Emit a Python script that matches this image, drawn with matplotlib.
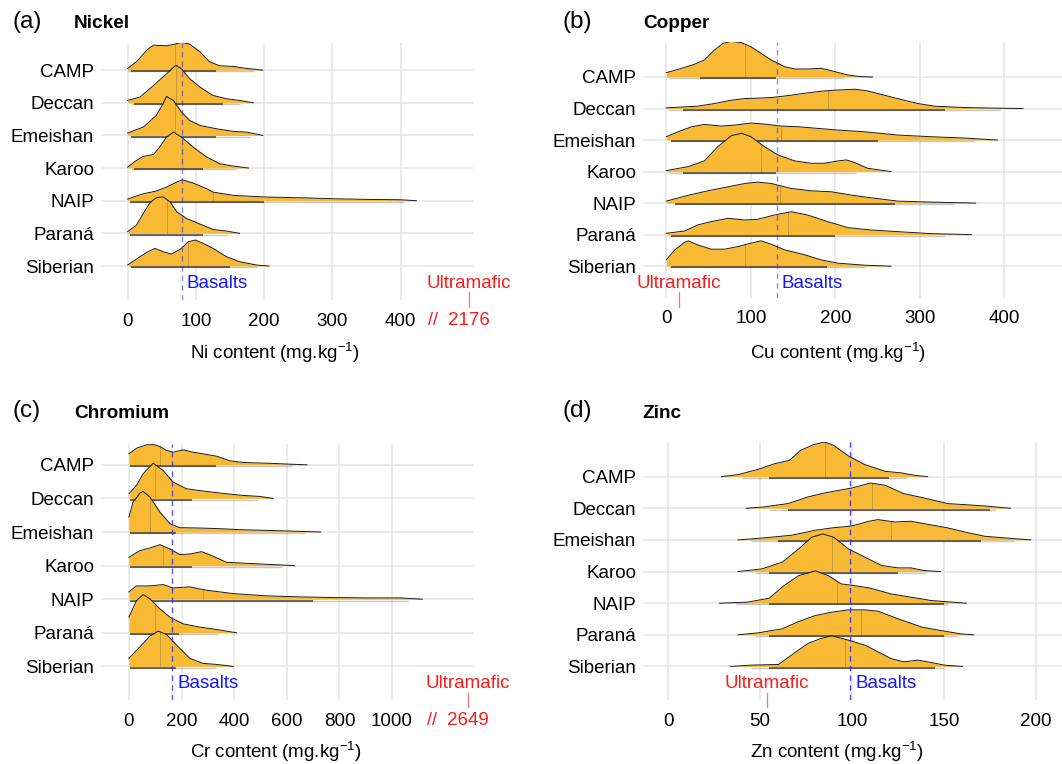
import numpy as np
import matplotlib
matplotlib.use('Agg')
import matplotlib.pyplot as plt

plt.rcParams['font.family'] = ['Liberation Sans', 'DejaVu Sans']
plt.rcParams['mathtext.default'] = 'regular'

REGIONS = ['CAMP', 'Deccan', 'Emeishan', 'Karoo', 'NAIP', 'Paraná', 'Siberian']

# ---------------- Nickel ----------------
NI_X = {
    'CAMP': [0, 13, 28, 38, 57, 67, 79, 91, 106, 120, 135, 155, 174, 198],
    'Deccan': [0, 18, 38, 57, 69, 71, 79, 91, 106, 125, 145, 164, 184],
    'Emeishan': [0, 23, 42, 52, 57, 67, 79, 91, 106, 130, 155, 174, 198],
    'Karoo': [0, 13, 23, 38, 47, 57, 67, 79, 96, 116, 135, 155, 177],
    'NAIP': [0, 23, 42, 57, 72, 80, 96, 116, 125, 155, 203, 252, 301, 350, 399, 423],
    'Paraná': [0, 13, 23, 33, 42, 52, 62, 72, 86, 106, 125, 145, 164],
    'Siberian': [0, 18, 30, 40, 52, 64, 77, 89, 99, 111, 125, 145, 164, 189, 207],
}
NI_H = {
    'CAMP': [5, 25, 60, 75, 73, 77, 83, 78, 55, 25, 13, 11, 5, 0],
    'Deccan': [7, 17, 52, 87, 110, 112, 102, 72, 47, 22, 12, 7, 0],
    'Emeishan': [7, 25, 60, 95, 117, 105, 70, 45, 30, 20, 12, 10, 0],
    'Karoo': [3, 23, 35, 41, 63, 93, 108, 93, 63, 33, 13, 6, 0],
    'NAIP': [5, 21, 29, 41, 56, 63, 53, 36, 26, 16, 11, 9, 6, 4, 3, 0],
    'Paraná': [5, 25, 60, 93, 107, 110, 95, 65, 45, 28, 12, 7, 0],
    'Siberian': [3, 28, 43, 53, 43, 36, 50, 73, 78, 68, 53, 28, 13, 3, 0],
}
NI_MEDIAN = [70, 71, 70, 80, 125, 58, 88]
NI_RUG = [(0, 185), (5, 165), (3, 180), (5, 160), (3, 405), (3, 145), (3, 190)]
NI_RUG_CORE = [(5, 130), (10, 140), (5, 130), (10, 110), (3, 200), (3, 110), (5, 150)]
NI_BASALT = 79
NI_ULTRA_POS = 500
NI_ULTRA_LABEL = '2176'
NI_TICKS = [0, 100, 200, 300, 400]

# ---------------- Copper ----------------
CU_X = {
    'CAMP': [0, 18, 33, 45, 57, 67, 77, 89, 100, 112, 124, 140, 152, 167, 183, 195, 215, 230, 244],
    'Deccan': [0, 37, 57, 77, 93, 108, 124, 148, 167, 183, 199, 223, 238, 258, 278, 298, 317, 353, 392, 422],
    'Emeishan': [0, 14, 30, 45, 65, 81, 100, 116, 136, 156, 179, 203, 234, 274, 313, 353, 392],
    'Karoo': [0, 26, 45, 61, 77, 89, 100, 116, 132, 152, 171, 187, 203, 213, 223, 238, 266],
    'NAIP': [0, 30, 53, 77, 93, 108, 124, 148, 171, 195, 219, 242, 274, 313, 366],
    'Paraná': [0, 22, 37, 53, 73, 93, 108, 128, 148, 167, 191, 215, 242, 274, 313, 361],
    'Siberian': [0, 10, 22, 26, 37, 53, 69, 85, 100, 112, 124, 140, 164, 183, 203, 234, 266],
}
CU_H = {
    'CAMP': [13, 26, 38, 51, 81, 101, 107, 103, 91, 71, 51, 31, 24, 24, 26, 19, 6, 1, 0],
    'Deccan': [2, 7, 15, 25, 30, 31, 33, 40, 47, 52, 55, 58, 53, 40, 27, 15, 7, 3, 1, 0],
    'Emeishan': [10, 25, 40, 47, 42, 45, 51, 48, 42, 40, 35, 30, 25, 15, 10, 6, 0],
    'Karoo': [3, 15, 32, 75, 108, 115, 105, 75, 50, 32, 25, 25, 32, 35, 27, 10, 0],
    'NAIP': [6, 26, 39, 51, 59, 63, 59, 44, 37, 34, 24, 16, 6, 3, 0],
    'Paraná': [4, 11, 29, 39, 49, 44, 46, 59, 69, 59, 39, 21, 14, 9, 3, 0],
    'Siberian': [19, 49, 72, 76, 64, 51, 51, 59, 69, 76, 66, 49, 34, 19, 9, 3, 0],
}
CU_MEDIAN = [93, 191, 136, 112, 134, 144, 93]
CU_RUG = [(3, 210), (3, 395), (5, 365), (3, 225), (10, 340), (3, 330), (3, 235)]
CU_RUG_CORE = [(40, 130), (20, 330), (5, 250), (20, 130), (10, 270), (5, 200), (5, 190)]
CU_BASALT = 131
CU_ULTRA_POS = 15
CU_TICKS = [0, 100, 200, 300, 400]

# ---------------- Chromium ----------------
CR_X = {
    'CAMP': [0, 29, 67, 92, 118, 143, 168, 206, 244, 282, 333, 384, 434, 523, 611, 677],
    'Deccan': [0, 29, 54, 92, 130, 168, 219, 295, 371, 434, 497, 548],
    'Emeishan': [0, 16, 42, 54, 80, 118, 156, 194, 270, 346, 422, 523, 649, 729],
    'Karoo': [0, 42, 80, 118, 156, 194, 232, 276, 320, 371, 447, 523, 630],
    'NAIP': [0, 29, 80, 130, 168, 232, 295, 396, 523, 649, 776, 902, 1029, 1115],
    'Paraná': [0, 29, 54, 80, 118, 156, 206, 270, 333, 409],
    'Siberian': [0, 42, 80, 111, 143, 181, 232, 282, 333, 396],
}
CR_H = {
    'CAMP': [33, 50, 60, 61, 55, 43, 38, 45, 38, 33, 26, 12, 7, 5, 2, 0],
    'Deccan': [14, 39, 74, 106, 84, 49, 29, 21, 14, 9, 6, 0],
    'Emeishan': [45, 90, 117, 122, 105, 60, 25, 13, 12, 10, 7, 5, 2, 0],
    'Karoo': [25, 45, 53, 63, 50, 33, 35, 42, 28, 10, 7, 4, 0],
    'NAIP': [22, 40, 40, 44, 34, 37, 27, 17, 10, 7, 5, 4, 4, 0],
    'Paraná': [47, 97, 115, 102, 72, 47, 27, 17, 10, 0],
    'Siberian': [24, 59, 91, 106, 96, 64, 24, 9, 6, 0],
}
CR_MEDIAN = [120, 100, 80, 130, 280, 100, 120]
CR_RUG = [(3, 620), (3, 490), (3, 670), (3, 580), (3, 1060), (3, 340), (3, 330)]
CR_RUG_CORE = [(3, 330), (3, 240), (3, 180), (3, 240), (3, 700), (3, 190), (3, 180)]
CR_BASALT = 165
CR_ULTRA_POS = 1287
CR_ULTRA_LABEL = '2649'
CR_TICKS = [0, 200, 400, 600, 800, 1000]

# ---------------- Zinc ----------------
ZN_X = {
    'CAMP': [29, 38, 49, 58, 66, 72, 79, 85, 90, 98, 107, 118, 127, 134, 141],
    'Deccan': [42.5, 52, 65, 76, 85, 100, 110, 118, 128, 139, 152, 161, 172, 186],
    'Emeishan': [38, 52, 67, 80, 89, 100, 109, 114, 123, 132, 139, 152, 161, 172, 183, 197],
    'Karoo': [38, 51, 62, 71, 78, 84, 90, 98, 107, 116, 125, 132, 139, 148],
    'NAIP': [28, 43, 55, 63, 71, 80, 87, 94, 101, 110, 121, 132, 143, 150, 162],
    'Paraná': [38, 49, 62, 71, 80, 89, 98, 107, 114, 125, 138, 148, 159, 166],
    'Siberian': [34, 45, 60, 67, 76, 83, 89, 98, 107, 114, 121, 128, 136, 143, 150, 160],
}
ZN_H = {
    'CAMP': [0, 6, 22, 39, 49, 79, 96, 104, 94, 62, 36, 16, 11, 4, 0],
    'Deccan': [0, 4, 14, 34, 46, 61, 76, 69, 44, 31, 14, 11, 7, 0],
    'Emeishan': [0, 6, 14, 29, 36, 42, 56, 61, 54, 56, 49, 36, 24, 11, 6, 0],
    'Karoo': [0, 8, 28, 68, 103, 113, 103, 68, 43, 18, 11, 11, 3, 0],
    'NAIP': [0, 3, 15, 53, 83, 97, 83, 58, 53, 45, 28, 18, 8, 5, 0],
    'Paraná': [0, 6, 18, 40, 58, 68, 75, 75, 71, 48, 23, 13, 3, 0],
    'Siberian': [0, 4, 6, 34, 69, 84, 92, 79, 64, 44, 24, 14, 19, 12, 4, 0],
}
ZN_MEDIAN = [85, 111, 121, 89, 92, 105, 96]
ZN_RUG = [(40, 130), (55, 178), (45, 188), (47, 140), (37, 152), (47, 157), (45, 150)]
ZN_RUG_CORE = [(55, 120), (65, 175), (60, 170), (55, 125), (55, 150), (55, 150), (55, 145)]
ZN_BASALT = 99
ZN_ULTRA_POS = 53.5
ZN_TICKS = [0, 50, 100, 150, 200]

# ---------------- figure ----------------
W, H = 1062, 764
FILL = '#F8B935'
GRID = '#E6E6E6'
FS = 13.5


def rect(l, r, t, b):
    return [l / W, 1 - b / H, (r - l) / W, (b - t) / H]


PANELS = [
    dict(X=NI_X, H=NI_H, med=NI_MEDIAN, rug=NI_RUG, core=NI_RUG_CORE, basalt=NI_BASALT,
         ultra=NI_ULTRA_POS, ulabel=NI_ULTRA_LABEL, ticks=NI_TICKS,
         rect=rect(101, 473, 43, 300), xlim=(-39, 506), ylim=(-1.04, 6.83), scale=1 / 98.1,
         lab_y=-0.52, utick=(-0.79, -1.24), slash_x=447, balpha=0.55,
         tag='(a)', title='Nickel', tagxy=(12, 22), titlexy=(74, 23),
         xlabel='Ni content (mg.kg$^{-1}$)', xlabxy=(275, 353)),
    dict(X=CU_X, H=CU_H, med=CU_MEDIAN, rug=CU_RUG, core=CU_RUG_CORE, basalt=CU_BASALT,
         ultra=CU_ULTRA_POS, ulabel=None, ticks=CU_TICKS,
         rect=rect(643, 1062, 42, 298), xlim=(-27.6, 468.2), ylim=(-1.01, 7.11), scale=1 / 94.7,
         lab_y=-0.54, utick=(-0.81, -1.29), slash_x=None, balpha=0.55,
         tag='(b)', title='Copper', tagxy=(563, 22), titlexy=(643, 23),
         xlabel='Cu content (mg.kg$^{-1}$)', xlabxy=(838, 353)),
    dict(X=CR_X, H=CR_H, med=CR_MEDIAN, rug=CR_RUG, core=CR_RUG_CORE, basalt=CR_BASALT,
         ultra=CR_ULTRA_POS, ulabel=CR_ULTRA_LABEL, ticks=CR_TICKS,
         rect=rect(101, 473, 444, 700), xlim=(-106, 1307.6), ylim=(-1.0, 6.62), scale=1 / 101,
         lab_y=-0.50, utick=(-0.80, -1.20), slash_x=1150, balpha=0.8,
         tag='(c)', title='Chromium', tagxy=(12, 411), titlexy=(74, 413),
         xlabel='Cr content (mg.kg$^{-1}$)', xlabxy=(276, 752)),
    dict(X=ZN_X, H=ZN_H, med=ZN_MEDIAN, rug=ZN_RUG, core=ZN_RUG_CORE, basalt=ZN_BASALT,
         ultra=ZN_ULTRA_POS, ulabel=None, ticks=ZN_TICKS,
         rect=rect(643, 1062, 442, 700), xlim=(-13.6, 214), ylim=(-1.06, 7.095), scale=1 / 95,
         lab_y=-0.54, utick=(-0.85, -1.27), slash_x=None, balpha=0.85,
         tag='(d)', title='Zinc', tagxy=(562, 411), titlexy=(642, 413),
         xlabel='Zn content (mg.kg$^{-1}$)', xlabxy=(837, 752)),
]

fig = plt.figure(figsize=(W / 100, H / 100), dpi=100)

for p in PANELS:
    ax = fig.add_axes(p['rect'])
    ax.set_xlim(*p['xlim'])
    ax.set_ylim(*p['ylim'])
    for s in ax.spines.values():
        s.set_visible(False)
    n = len(REGIONS)
    ypos = [n - 1 - i for i in range(n)]
    ax.set_yticks(ypos)
    ax.set_yticklabels(REGIONS, fontsize=FS)
    ax.set_xticks(p['ticks'])
    ax.set_xticklabels([str(t) for t in p['ticks']], fontsize=FS)
    ax.tick_params(length=0, axis='x', pad=9)
    ax.tick_params(length=0, axis='y', pad=5)
    ax.grid(True, color=GRID, lw=1.1, zorder=0)
    ax.set_axisbelow(True)

    for i, reg in enumerate(REGIONS):
        y0 = ypos[i]
        xs = np.array(p['X'][reg], dtype=float)
        hs = np.array(p['H'][reg], dtype=float) * p['scale']
        z = 2 + i
        ax.fill_between(xs, y0, y0 + hs, color=FILL, lw=0, zorder=z)
        ax.plot(xs, y0 + hs, color='#1a1a1a', lw=0.7, zorder=z + 0.2,
                solid_joinstyle='round')
        m = p['med'][i]
        hm = np.interp(m, xs, hs)
        ax.plot([m, m], [y0, y0 + hm], color='#7a6a40', lw=0.7, alpha=0.4, zorder=z + 0.1)
        lo, hi = p['rug'][i]
        ax.plot([lo, hi], [y0 - 0.04, y0 - 0.04], color='#666666', lw=1.0, alpha=0.35,
                zorder=z + 0.3, solid_capstyle='butt')
        lo, hi = p['core'][i]
        ax.plot([lo, hi], [y0 - 0.04, y0 - 0.04], color='#111111', lw=1.4, alpha=0.6,
                zorder=z + 0.3, solid_capstyle='butt')

    ax.axvline(p['basalt'], color='#2a2aff', ls=(0, (4, 3)), lw=1.0, alpha=p['balpha'],
               zorder=30)
    ax.annotate('Basalts', xy=(p['basalt'], p['lab_y']), xytext=(3.5, 0),
                textcoords='offset points', color='#1515ff', fontsize=FS,
                ha='left', va='center', zorder=31)
    ax.text(p['ultra'], p['lab_y'], 'Ultramafic', color='#ff1a1a', fontsize=FS,
            ha='center', va='center', clip_on=False, zorder=31)
    ax.plot([p['ultra'], p['ultra']], list(p['utick']), color='#ff7070', lw=0.9,
            clip_on=False, zorder=31)
    if p['ulabel'] is not None:
        ax.annotate(p['ulabel'], xy=(p['ultra'], 0), xycoords=('data', 'axes fraction'),
                    xytext=(0, -14.5), textcoords='offset points', color='#ff1a1a',
                    fontsize=FS, ha='center', va='center', annotation_clip=False)
        ax.annotate('//', xy=(p['slash_x'], 0), xycoords=('data', 'axes fraction'),
                    xytext=(0, -14.5), textcoords='offset points', color='#ff1a1a',
                    fontsize=13, ha='center', va='center', annotation_clip=False)

    fig.text(p['tagxy'][0] / W, 1 - p['tagxy'][1] / H, p['tag'], fontsize=17.5,
             ha='left', va='center')
    fig.text(p['titlexy'][0] / W, 1 - p['titlexy'][1] / H, p['title'], fontsize=13.7,
             fontweight='bold', ha='left', va='center')
    fig.text(p['xlabxy'][0] / W, 1 - p['xlabxy'][1] / H, p['xlabel'], fontsize=FS,
             ha='center', va='center')

fig.savefig('out.png', dpi=100)
